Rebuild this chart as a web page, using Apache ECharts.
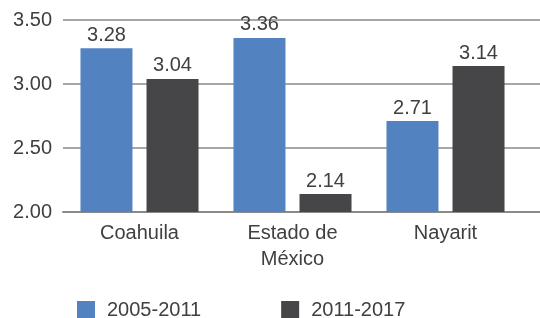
<!DOCTYPE html>
<html>
<head>
<meta charset="utf-8">
<script src="https://cdn.jsdelivr.net/npm/echarts@6/dist/echarts.min.js"></script>
<style>
  html, body { margin: 0; padding: 0; background: #fff; }
  #chart { width: 540px; height: 318px; }
</style>
</head>
<body>
<div id="chart"></div>
<script>
// ========== 数据 ==========
const categories = ['Coahuila', 'Estado de\nMéxico', 'Nayarit'];
const seriesNames = ['2005-2011', '2011-2017'];
const values2005 = [3.28, 3.36, 2.71];
const values2011 = [3.04, 2.14, 3.14];
const yTicks = [2.0, 2.5, 3.0, 3.5];

const FONT = '"Liberation Sans", Arial, sans-serif';
const TEXT = '#404040';

const chart = echarts.init(document.getElementById('chart'), null, { renderer: 'canvas' });

const labelStyle = {
  show: true, position: 'top', distance: 3,
  color: TEXT, fontSize: 20, fontFamily: FONT,
  formatter: p => p.value.toFixed(2)
};

chart.setOption({
  animation: false,
  backgroundColor: '#fff',
  textStyle: { fontFamily: FONT },
  legend: {
    left: 77, top: 300, padding: 0,
    itemWidth: 18, itemHeight: 18, itemGap: 80,
    icon: 'rect',
    textStyle: { color: TEXT, fontSize: 20, fontFamily: FONT, padding: [0, 0, 0, 7] },
    data: seriesNames
  },
  grid: [
    // 主绘图区
    { left: 63, top: 20, width: 459, height: 192 },
    // 网格线一直延伸到右边缘
    { left: 63, top: 20, right: 0, height: 192 }
  ],
  xAxis: [
    {
      type: 'category', gridIndex: 0, data: categories,
      axisLine: { show: false }, axisTick: { show: false },
      axisLabel: { color: TEXT, fontSize: 20, fontFamily: FONT, margin: 8, lineHeight: 26 }
    },
    {
      type: 'value', gridIndex: 1, min: 0, max: 1,
      axisLine: { show: true, lineStyle: { color: '#8a8a8a', width: 2 } },
      axisTick: { show: false }, axisLabel: { show: false }, splitLine: { show: false }
    }
  ],
  yAxis: [
    {
      type: 'value', gridIndex: 0,
      min: yTicks[0], max: yTicks[yTicks.length - 1], interval: 0.5,
      axisLine: { show: false }, axisTick: { show: false },
      splitLine: { show: false },
      axisLabel: { color: TEXT, fontSize: 20, fontFamily: FONT, margin: 11, formatter: v => v.toFixed(2) }
    },
    {
      type: 'value', gridIndex: 1,
      min: yTicks[0], max: yTicks[yTicks.length - 1], interval: 0.5,
      axisLine: { show: false }, axisTick: { show: false }, axisLabel: { show: false },
      splitLine: { lineStyle: { color: '#8a8a8a', width: 1.5 } }
    }
  ],
  series: [
    {
      name: seriesNames[0], type: 'bar', xAxisIndex: 0, yAxisIndex: 0,
      data: values2005, barWidth: 52, barGap: '27%',
      itemStyle: { color: '#5282c0' }, label: labelStyle
    },
    {
      name: seriesNames[1], type: 'bar', xAxisIndex: 0, yAxisIndex: 0,
      data: values2011, barWidth: 52, barGap: '27%',
      itemStyle: { color: '#464648' }, label: labelStyle
    }
  ]
});
</script>
</body>
</html>
